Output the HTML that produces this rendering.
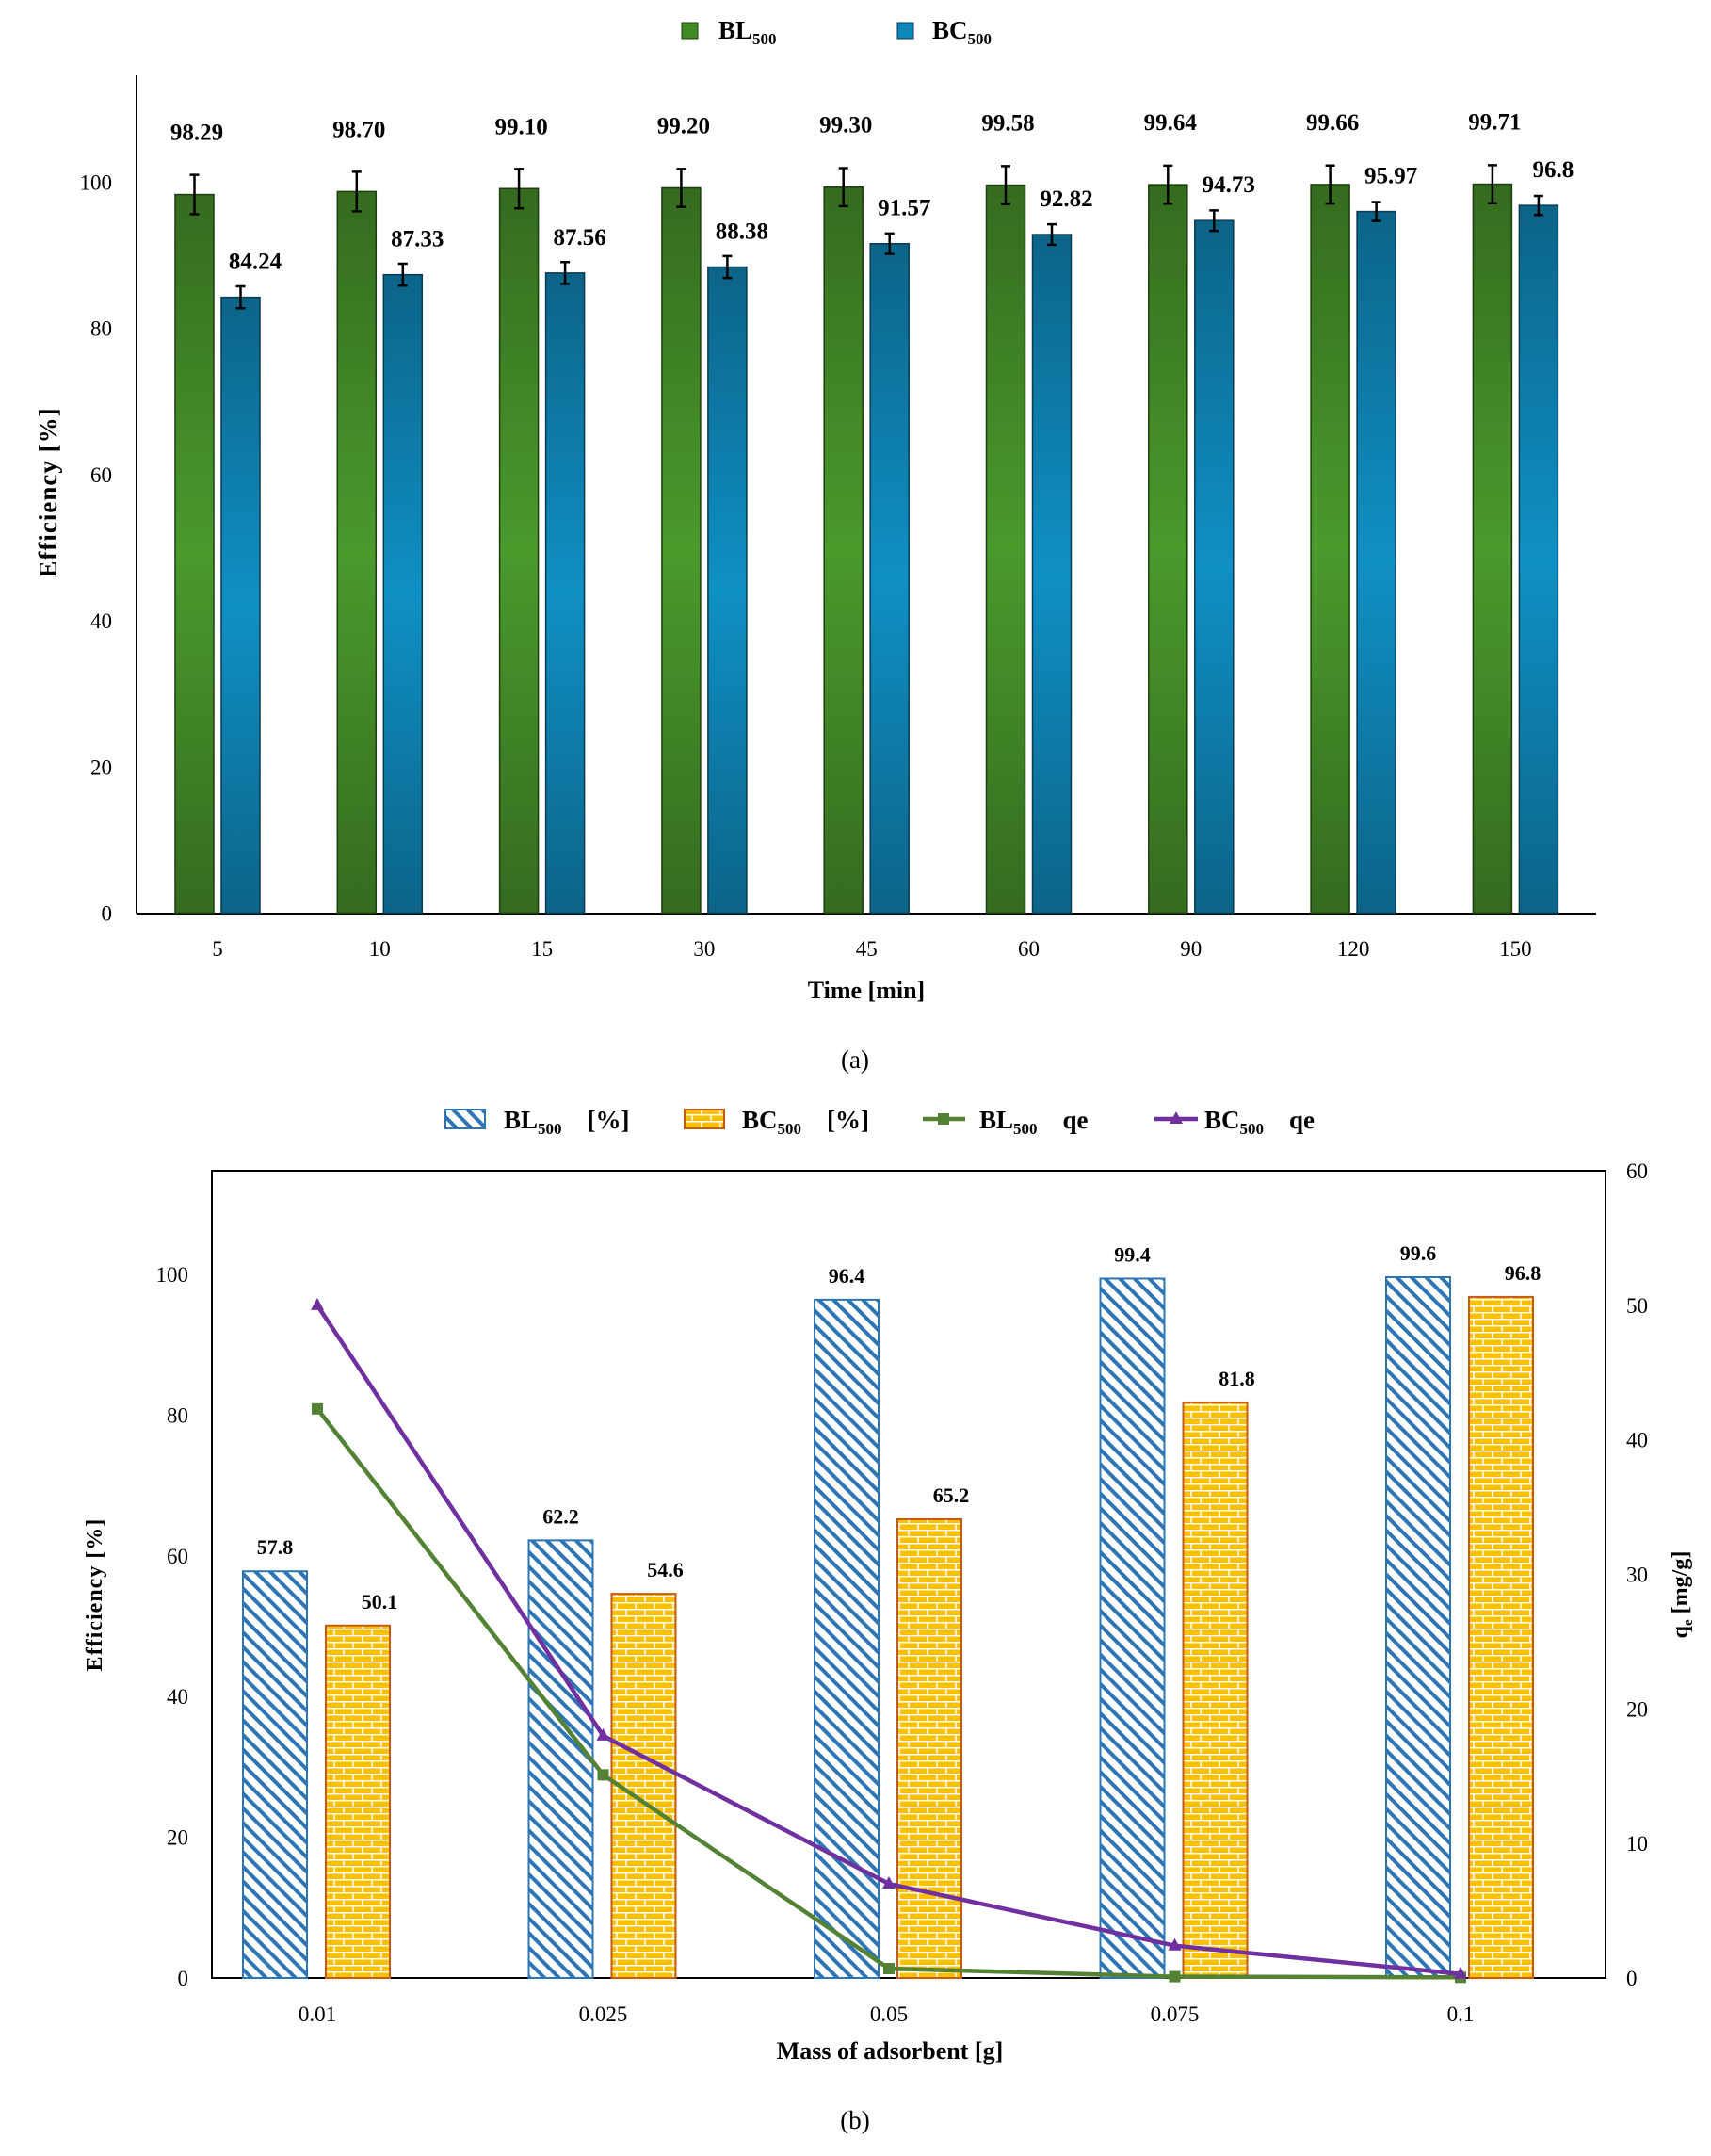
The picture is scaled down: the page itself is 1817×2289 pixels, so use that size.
<!DOCTYPE html>
<html><head><meta charset="utf-8"><style>
body{margin:0;background:#fff}
svg{display:block;font-family:"Liberation Serif",serif}
</style></head><body>
<svg id="s" width="1817" height="2289" viewBox="0 0 1817 2289" xmlns="http://www.w3.org/2000/svg">
<defs>
<linearGradient id="gG" x1="0" y1="0" x2="0" y2="1"><stop offset="0" stop-color="#356b1f"/><stop offset="0.5" stop-color="#4a9a2c"/><stop offset="1" stop-color="#356b1f"/></linearGradient>
<linearGradient id="gB" x1="0" y1="0" x2="0" y2="1"><stop offset="0" stop-color="#0c6488"/><stop offset="0.5" stop-color="#0f90c5"/><stop offset="1" stop-color="#0c6488"/></linearGradient>
<pattern id="hatch" width="11" height="11" patternUnits="userSpaceOnUse" patternTransform="rotate(-45)"><rect width="11" height="11" fill="#fff"/><rect width="4" height="11" fill="#2e75b6"/></pattern>
<pattern id="brick" width="20" height="14" patternUnits="userSpaceOnUse"><rect width="20" height="14" fill="#ffc000"/><path d="M0 0.75H20M0 7.75H20M5 0V7M15 7V14" stroke="#fff" stroke-width="1.5"/></pattern>
</defs>
<g id="a"></g>
<g id="b"></g>
</svg>
<script>
const catsA=["5","10","15","30","45","60","90","120","150"];
const blA=[98.29,98.70,99.10,99.20,99.30,99.58,99.64,99.66,99.71];
const bcA=[84.24,87.33,87.56,88.38,91.57,92.82,94.73,95.97,96.8];
const blErr=[2.7,2.7,2.7,2.6,2.6,2.6,2.6,2.6,2.6];
const bcErr=[1.5,1.5,1.5,1.5,1.4,1.4,1.4,1.3,1.3];
const ticksA=[0,20,40,60,80,100];

const catsB=["0.01","0.025","0.05","0.075","0.1"];
const blB=[57.8,62.2,96.4,99.4,99.6];
const bcB=[50.1,54.6,65.2,81.8,96.8];
const blQe=[42.3,15.1,0.7,0.1,0.05];
const bcQe=[50,18,7,2.4,0.3];
const ticksBL=[0,20,40,60,80,100];
const ticksBR=[0,10,20,30,40,50,60];

const NS="http://www.w3.org/2000/svg";
function mk(p,t,a,txt){const e=document.createElementNS(NS,t);for(const k in a)e.setAttribute(k,a[k]);if(txt!==undefined)e.textContent=txt;p.appendChild(e);return e;}

// ---- chart a
const A=document.getElementById('a');
const ya=v=>969.5-v*7.762;
const xa=i=>231+i*172.3;
mk(A,'line',{x1:145,y1:80,x2:145,y2:970,stroke:'#000','stroke-width':2});
mk(A,'line',{x1:145,y1:970,x2:1695,y2:970,stroke:'#000','stroke-width':2});
ticksA.forEach(t=>{const e=mk(A,'text',{x:119,y:ya(t)+8,'text-anchor':'end','font-size':23},t);

});
catsA.forEach((c,i)=>{
 const e=mk(A,'text',{x:xa(i),y:1015,'text-anchor':'middle','font-size':23},c);
 
 
 const g=mk(A,'rect',{x:xa(i)-45,y:ya(blA[i]),width:41,height:ya(0)-ya(blA[i]),fill:'url(#gG)',stroke:'#1d3d10','stroke-width':1.5});
 
 
 const b=mk(A,'rect',{x:xa(i)+4,y:ya(bcA[i]),width:41,height:ya(0)-ya(bcA[i]),fill:'url(#gB)',stroke:'#0a3a50','stroke-width':1.5});
 
 
 [[xa(i)-24.5,blA[i],blErr[i]],[xa(i)+24.5,bcA[i],bcErr[i]]].forEach(([x,v,er])=>{
  const eb=mk(A,'path',{d:`M${x} ${ya(v+er)}V${ya(v-er)}M${x-5} ${ya(v+er)}H${x+5}M${x-5} ${ya(v-er)}H${x+5}`,stroke:'#000','stroke-width':2.5,fill:'none'});
  
  
 });
 const l1=mk(A,'text',{x:xa(i)-22,y:ya(blA[i])-58,'text-anchor':'middle','font-size':25,'font-weight':'bold'},blA[i].toFixed(2));
 
 
 const l2=mk(A,'text',{x:xa(i)+40,y:ya(bcA[i])-30,'text-anchor':'middle','font-size':25,'font-weight':'bold'},String(bcA[i]));
 
 
});
A.insertAdjacentHTML('beforeend',`
<text transform="translate(60,523) rotate(-90)" text-anchor="middle" font-size="27" font-weight="bold" letter-spacing="1">Efficiency [%]</text>
<text x="920" y="1060" text-anchor="middle" font-size="26" font-weight="bold">Time [min]</text>
<text x="908" y="1134" text-anchor="middle" font-size="27">(a)</text>
<g>
<rect x="724" y="24" width="17" height="17" fill="#3f8a24" stroke="#1d3d10"/>
<text x="763" y="41" font-size="27" font-weight="bold">BL<tspan font-size="17" dy="6">500</tspan></text>
<rect x="953" y="24" width="17" height="17" fill="#0f86b8" stroke="#0a3a50"/>
<text x="990" y="41" font-size="27" font-weight="bold">BC<tspan font-size="17" dy="6">500</tspan></text>
</g>`);

// ---- chart b
const B=document.getElementById('b');
const yb=v=>2100-v*7.47;
const yr=v=>2100-v*(857/60);
const xb=i=>337+i*303.5;
mk(B,'rect',{x:225,y:1243,width:1480,height:857,fill:'none',stroke:'#000','stroke-width':2});
ticksBL.forEach(t=>{const e=mk(B,'text',{x:200,y:yb(t)+8,'text-anchor':'end','font-size':23},t);

});
ticksBR.forEach(t=>{const e=mk(B,'text',{x:1727,y:yr(t)+8,'text-anchor':'start','font-size':23},t);

});
catsB.forEach((c,i)=>{
 const e=mk(B,'text',{x:xb(i),y:2146,'text-anchor':'middle','font-size':23},c);
 
 
 const h=mk(B,'rect',{x:xb(i)-79,y:yb(blB[i]),width:68,height:yb(0)-yb(blB[i]),fill:'url(#hatch)',stroke:'#2e75b6','stroke-width':2});
 
 
 const r=mk(B,'rect',{x:xb(i)+9,y:yb(bcB[i]),width:68,height:yb(0)-yb(bcB[i]),fill:'url(#brick)',stroke:'#c55a11','stroke-width':2});
 
 
 const l1=mk(B,'text',{x:xb(i)-45,y:yb(blB[i])-18,'text-anchor':'middle','font-size':22,'font-weight':'bold'},String(blB[i]));
 
 
 const l2=mk(B,'text',{x:xb(i)+66,y:yb(bcB[i])-18,'text-anchor':'middle','font-size':22,'font-weight':'bold'},String(bcB[i]));
 
 
});
function series(vals,col,name,marker){
 const pts=vals.map((v,i)=>xb(i)+','+yr(v)).join(' ');
 const pl=mk(B,'polyline',{points:pts,fill:'none',stroke:col,'stroke-width':4.5,'stroke-linejoin':'round'});
 
 
 vals.forEach((v,i)=>{
  const x=xb(i),y=yr(v);
  const m=marker==='sq'?mk(B,'rect',{x:x-6,y:y-6,width:12,height:12,fill:col}):mk(B,'path',{d:`M${x} ${y-8}L${x+7} ${y+5}L${x-7} ${y+5}Z`,fill:col});
  
  
 });
}
series(blQe,'#548235','bl500-qe-line','sq');
series(bcQe,'#7030a0','bc500-qe-line','tri');
B.insertAdjacentHTML('beforeend',`
<text transform="translate(108,1693) rotate(-90)" text-anchor="middle" font-size="24" font-weight="bold" letter-spacing="1">Efficiency [%]</text>
<text transform="translate(1792,1693) rotate(-90)" text-anchor="middle" font-size="24" font-weight="bold">q<tspan font-size="15" dy="5">e</tspan><tspan dy="-5"> [mg/g]</tspan></text>
<text x="945" y="2186" text-anchor="middle" font-size="26" font-weight="bold">Mass of adsorbent [g]</text>
<text x="908" y="2260" text-anchor="middle" font-size="27">(b)</text>
<g>
<rect x="473" y="1178" width="42" height="20" fill="url(#hatch)" stroke="#2e75b6" stroke-width="2"/>
<text x="535" y="1198" font-size="27" font-weight="bold">BL<tspan font-size="17" dy="6">500</tspan><tspan dy="-6" xml:space="preserve">    [%]</tspan></text>
<rect x="727" y="1178" width="42" height="20" fill="url(#brick)" stroke="#c55a11" stroke-width="2"/>
<text x="788" y="1198" font-size="27" font-weight="bold">BC<tspan font-size="17" dy="6">500</tspan><tspan dy="-6" xml:space="preserve">    [%]</tspan></text>
<line x1="980" y1="1188" x2="1025" y2="1188" stroke="#548235" stroke-width="4.5"/>
<rect x="996" y="1182" width="12" height="12" fill="#548235"/>
<text x="1040" y="1198" font-size="27" font-weight="bold">BL<tspan font-size="17" dy="6">500</tspan><tspan dy="-6" xml:space="preserve">    qe</tspan></text>
<line x1="1226" y1="1188" x2="1272" y2="1188" stroke="#7030a0" stroke-width="4.5"/>
<path d="M1249 1180L1256 1193L1242 1193Z" fill="#7030a0"/>
<text x="1279" y="1198" font-size="27" font-weight="bold">BC<tspan font-size="17" dy="6">500</tspan><tspan dy="-6" xml:space="preserve">    qe</tspan></text>
</g>`);
</script>
</body></html>
